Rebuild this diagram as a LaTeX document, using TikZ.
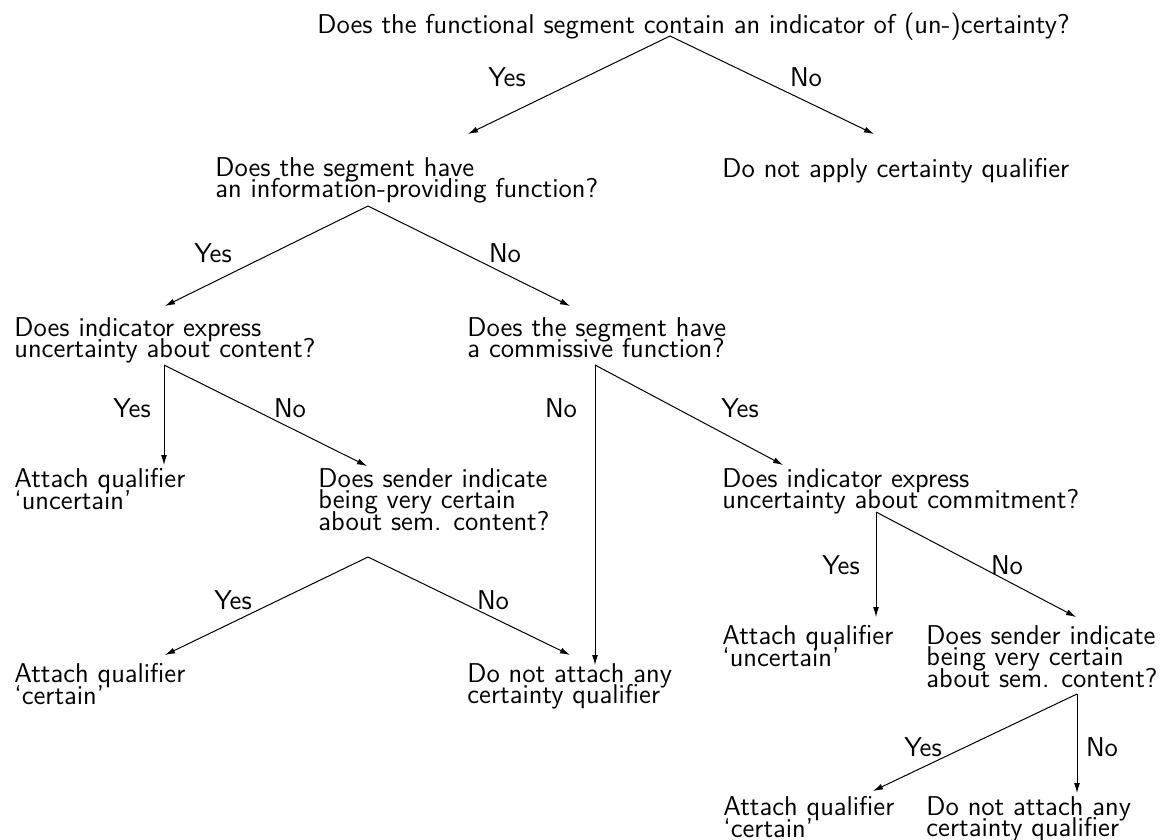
\documentclass[tikz,border=0pt]{standalone}
\usepackage{tikz}
\usetikzlibrary{arrows.meta}
\setlength{\lineskiplimit}{-\maxdimen}
\tikzstyle{question} = [anchor=north west, inner sep=0pt, align=left, font=\sffamily\fontsize{13.6}{10.8}\selectfont]
\tikzstyle{answer} = [inner sep=0pt, font=\sffamily\fontsize{13.6}{10.8}\selectfont]
\tikzstyle{arrow} = [line width=0.5pt, -{Latex[length=5pt,width=3pt]}]

\begin{document}
\begin{tikzpicture}[x=0.5pt, y=-0.5pt]
\useasboundingbox (0,0) rectangle (1162,840);

\node (root) [question] at (317,13) {Does the functional segment contain an indicator of (un-)certainty?};
\node (info) [question] at (215,157) {Does the segment have\\an information-providing function?};
\node (noapply) [question] at (722,158) {Do not apply certainty qualifier};
\node (indicator) [question] at (14,317) {Does indicator express\\uncertainty about content?};
\node (commissive) [question] at (467,317) {Does the segment have\\a commissive function?};
\node (uncertainA) [question] at (14,468) {Attach qualifier\\`uncertain'};
\node (senderA) [question] at (318,468) {Does sender indicate\\being very certain\\about sem. content?};
\node (commitment) [question] at (722,468) {Does indicator express\\uncertainty about commitment?};
\node (certainA) [question] at (14,663) {Attach qualifier\\`certain'};
\node (noattachA) [question] at (467,663) {Do not attach any\\certainty qualifier};
\node (uncertainB) [question] at (722,625) {Attach qualifier\\`uncertain'};
\node (senderB) [question] at (926,625) {Does sender indicate\\being very certain\\about sem. content?};
\node (certainB) [question] at (723,796) {Attach qualifier\\`certain'};
\node (noattachB) [question] at (926,796) {Do not attach any\\certainty qualifier};

\coordinate (root-out) at (670,36);
\coordinate (info-out) at (368,206);
\coordinate (indicator-out) at (164,365);
\coordinate (commissive-out) at (595,365);
\coordinate (senderA-out) at (368,557);
\coordinate (commitment-out) at (876,512);
\coordinate (senderB-out) at (1077,694);

\coordinate (info-in) at (468,134);
\coordinate (noapply-in) at (874,134);
\coordinate (indicator-in) at (165,306);
\coordinate (commissive-in) at (570,306);
\coordinate (uncertainA-in) at (164,465);
\coordinate (senderA-in) at (367,466);
\coordinate (noattachA-in) at (595,665);
\coordinate (commitment-in) at (783,465);
\coordinate (certainA-in) at (165,655);
\coordinate (noattachA-in2) at (570,655);
\coordinate (uncertainB-in) at (876,617);
\coordinate (senderB-in) at (1076,617);
\coordinate (certainB-in) at (873,791);
\coordinate (noattachB-in) at (1077,793);

\draw [arrow] (root-out) -- (info-in);
\draw [arrow] (root-out) -- (noapply-in);
\draw [arrow] (info-out) -- (indicator-in);
\draw [arrow] (info-out) -- (commissive-in);
\draw [arrow] (indicator-out) -- (uncertainA-in);
\draw [arrow] (indicator-out) -- (senderA-in);
\draw [arrow] (commissive-out) -- (noattachA-in);
\draw [arrow] (commissive-out) -- (commitment-in);
\draw [arrow] (senderA-out) -- (certainA-in);
\draw [arrow] (senderA-out) -- (noattachA-in2);
\draw [arrow] (commitment-out) -- (uncertainB-in);
\draw [arrow] (commitment-out) -- (senderB-in);
\draw [arrow] (senderB-out) -- (certainB-in);
\draw [arrow] (senderB-out) -- (noattachB-in);

\node (yes1) [answer] at (507,77) {Yes};
\node (no1) [answer] at (806,77) {No};
\node (yes2) [answer] at (213,253) {Yes};
\node (no2) [answer] at (505,253) {No};
\node (yes3) [answer] at (132,408) {Yes};
\node (no3) [answer] at (290,408) {No};
\node (no4) [answer] at (561,408) {No};
\node (yes4) [answer] at (740,408) {Yes};
\node (yes5) [answer] at (233,600) {Yes};
\node (no5) [answer] at (493,600) {No};
\node (yes6) [answer] at (841,565) {Yes};
\node (no6) [answer] at (1007,565) {No};
\node (yes7) [answer] at (923,747) {Yes};
\node (no7) [answer] at (1102,747) {No};

\end{tikzpicture}
\end{document}
